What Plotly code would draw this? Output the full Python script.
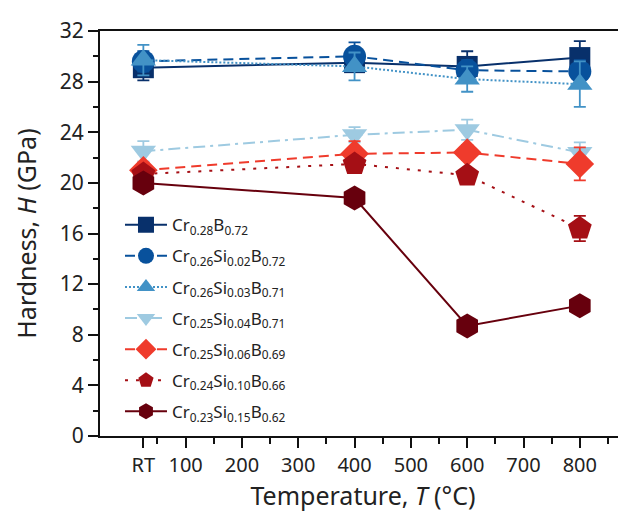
import plotly.graph_objects as go

temps = [25, 400, 600, 800]
x_tickvals = [25, 100, 200, 300, 400, 500, 600, 700, 800]
x_ticktext = ["RT", "100", "200", "300", "400", "500", "600", "700", "800"]
x_minor = [50, 150, 250, 350, 450, 550, 650, 750, 850]
y_tickvals = [0, 4, 8, 12, 16, 20, 24, 28, 32]
y_minor = [2, 6, 10, 14, 18, 22, 26, 30]

names = [
    "Cr<sub>0.28</sub>B<sub>0.72</sub>",
    "Cr<sub>0.26</sub>Si<sub>0.02</sub>B<sub>0.72</sub>",
    "Cr<sub>0.26</sub>Si<sub>0.03</sub>B<sub>0.71</sub>",
    "Cr<sub>0.25</sub>Si<sub>0.04</sub>B<sub>0.71</sub>",
    "Cr<sub>0.25</sub>Si<sub>0.06</sub>B<sub>0.69</sub>",
    "Cr<sub>0.24</sub>Si<sub>0.10</sub>B<sub>0.66</sub>",
    "Cr<sub>0.23</sub>Si<sub>0.15</sub>B<sub>0.62</sub>",
]
h_cr28 = [29.1, 29.5, 29.2, 29.9]
h_si02 = [29.6, 30.0, 28.9, 28.8]
h_si03 = [29.7, 29.2, 28.2, 27.8]
h_si04 = [22.5, 23.8, 24.2, 22.4]
h_si06 = [21.0, 22.3, 22.4, 21.5]
h_si10 = [20.7, 21.5, 20.6, 16.4]
h_si15 = [20.0, 18.8, 8.7, 10.3]

e_cr28 = [1.0, 0.6, 1.2, 1.3]
e_si02 = [0.8, 1.1, 0.8, 0.9]
e_si03 = [1.2, 1.1, 1.0, 1.8]
e_si04 = [0.8, 0.6, 0.8, 0.8]
e_si06 = [0.6, 1.0, 0.6, 1.3]
e_si10 = [0.5, 0.5, 0.5, 1.0]
e_si15 = [0.3, 0.3, 0.3, 0.3]

values = [h_cr28, h_si02, h_si03, h_si04, h_si06, h_si10, h_si15]
errors = [e_cr28, e_si02, e_si03, e_si04, e_si06, e_si10, e_si15]
colors = ["#08306b", "#08519c", "#4292c6", "#9ecae1", "#ef3b2c", "#a50f15", "#67000d"]
symbols = ["square", "circle", "triangle-up", "triangle-down", "diamond", "pentagon", "hexagon"]
sizes = [21, 23, 22, 22, 22, 25, 25]
dashes = ["solid", "10px,6px", "2px,2px", "12px,5px,3px,5px", "10px,6px", "3px,8px", "solid"]

FONT = "Noto Sans"

fig = go.Figure()
for i, (n, v, e, c, s, sz, d) in enumerate(zip(names, values, errors, colors, symbols, sizes, dashes)):
    fig.add_trace(go.Scatter(
        x=temps, y=v, name=n, mode="lines+markers", legendgroup="g%d" % i,
        line=dict(color=c, width=2, dash=d),
        marker=dict(symbol=s, size=sz, color=c, line=dict(width=0)),
        error_y=dict(type="data", array=e, color=c, thickness=1.8, width=6),
    ))

# the page body adds an 8px offset; margins compensate for it
fig.update_layout(
    width=626, height=522,
    margin=dict(l=92, r=8, t=13, b=94),
    paper_bgcolor="white", plot_bgcolor="white",
    font=dict(family=FONT, color="#222"),
    showlegend=True,
    legend=dict(
        x=0.038, y=0.565, xanchor="left", yanchor="top",
        bgcolor="rgba(0,0,0,0)", font=dict(size=17, family=FONT, color="#222"),
        itemwidth=42, tracegroupgap=6,
    ),
    xaxis=dict(
        range=[-52, 882], tickmode="array", tickvals=x_tickvals, ticktext=x_ticktext,
        ticks="outside", ticklen=10, tickwidth=2, tickcolor="#111",
        showline=True, linecolor="#111", linewidth=2, mirror=True,
        showgrid=False, zeroline=False, ticklabeloverflow="allow",
        tickfont=dict(size=20, family=FONT, color="#222"),
        minor=dict(tickmode="array", tickvals=x_minor, ticks="outside", ticklen=6,
                   tickwidth=2, tickcolor="#111", showgrid=False),
        title=dict(text="Temperature, <i>T</i> (°C)", font=dict(size=25, family=FONT, color="#222"),
                   standoff=8),
    ),
    yaxis=dict(
        range=[0, 32], tickmode="array", tickvals=y_tickvals,
        ticks="outside", ticklen=10, tickwidth=2, tickcolor="#111",
        showline=True, linecolor="#111", linewidth=2, showgrid=False, zeroline=False,
        ticklabeloverflow="allow",
        tickfont=dict(size=21, family=FONT, color="#222"),
        minor=dict(tickmode="array", tickvals=y_minor, ticks="outside",
                   ticklen=5, tickwidth=2, tickcolor="#111", showgrid=False),
        title=dict(text="Hardness, <i>H</i> (GPa)", font=dict(size=25, family=FONT, color="#222"),
                   standoff=16),
    ),
)

fig.write_html("out.html")
